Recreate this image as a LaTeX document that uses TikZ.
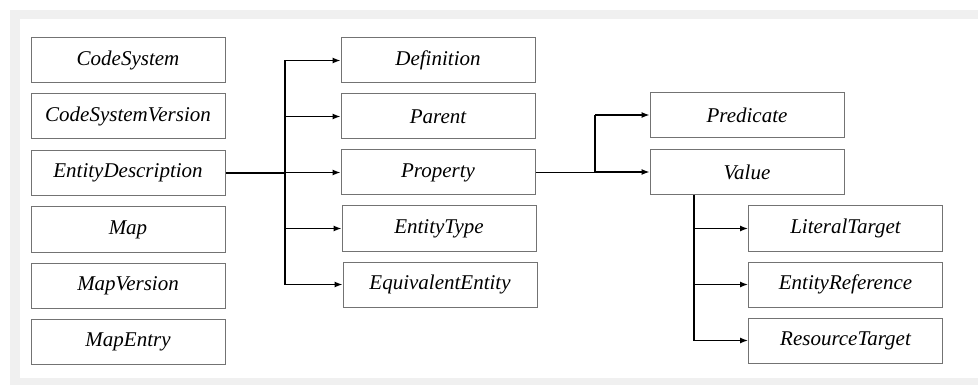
\documentclass[tikz,border=0pt]{standalone}
\usepackage{fontspec}
\setmainfont{Liberation Serif}
\newfontfamily\boxfont{Liberation Serif}
\usetikzlibrary{arrows.meta}
\begin{document}
\begin{tikzpicture}[x=1pt,y=-1pt,
  box/.style={draw=black!55, line width=1pt, fill=white, minimum width=194pt, minimum height=45pt, inner sep=0pt, font=\boxfont\fontsize{21}{23}\selectfont\itshape},
  conn/.style={draw=black, line width=1.3pt},
  arr/.style={conn, -{Latex[length=8pt,width=6pt]}}]
\useasboundingbox (0,0) rectangle (978,385);
\fill[black!6] (10,10) rectangle (978,385);
\fill[white] (20,19) rectangle (978,378);
% left column
\node[box] (cs)  at (128,60.5)  {CodeSystem};
\node[box] (csv) at (128,116.5) {CodeSystemVersion};
\node[box] (ed)  at (128,173)   {EntityDescription};
\node[box] (map) at (128,229.5) {Map};
\node[box] (mv)  at (128,285.5) {MapVersion};
\node[box] (me)  at (128,342)   {MapEntry};
% middle column
\node[box] (def) at (438,60.5)  {Definition};
\node[box] (par) at (438,116.5) {Parent};
\node[box] (prop) at (438,172.5) {Property};
\node[box] (et)  at (439,228.5) {EntityType};
\node[box] (eq)  at (440,284.5) {EquivalentEntity};
% right column
\node[box] (pred) at (747,115) {Predicate};
\node[box] (val)  at (747,172) {Value};
\node[box] (lit)  at (845.5,228.5) {LiteralTarget};
\node[box] (eref) at (845.5,284.5) {EntityReference};
\node[box] (res)  at (845.5,340.5) {ResourceTarget};
% branch coordinates
\coordinate (b1) at (285,0);
\coordinate (b2) at (595,0);
\coordinate (b3) at (694,0);
% connectors
\draw[conn] (ed.east) -- (b1 |- ed.east);
\draw[conn] (b1 |- def.west) -- (b1 |- eq.west);
\draw[arr] (b1 |- def.west) -- (def.west);
\draw[arr] (b1 |- par.west) -- (par.west);
\draw[arr] (b1 |- prop.west) -- (prop.west);
\draw[arr] (b1 |- et.west) -- (et.west);
\draw[arr] (b1 |- eq.west) -- (eq.west);
\draw[conn] (prop.east) -- (b2 |- prop.east);
\draw[conn] (b2 |- pred.west) -- (b2 |- val.west);
\draw[arr] (b2 |- pred.west) -- (pred.west);
\draw[arr] (b2 |- val.west) -- (val.west);
\draw[conn] (b3 |- val.south) -- (b3 |- res.west);
\draw[arr] (b3 |- lit.west) -- (lit.west);
\draw[arr] (b3 |- eref.west) -- (eref.west);
\draw[arr] (b3 |- res.west) -- (res.west);
\end{tikzpicture}
\end{document}
